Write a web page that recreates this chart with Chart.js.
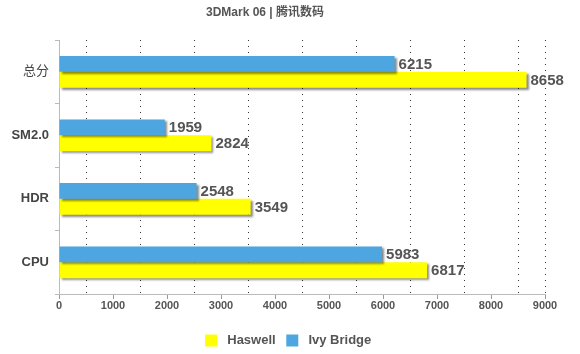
<!DOCTYPE html>
<html>
<head>
<meta charset="utf-8">
<script src="https://cdn.jsdelivr.net/npm/chart.js@4.4.0/dist/chart.umd.min.js"></script>
<style>
  html, body { margin: 0; padding: 0; background: #fff; }
  #wrap { width: 580px; height: 354px; }
</style>
</head>
<body>
<div id="wrap"><canvas id="myChart"></canvas></div>
<script>
var chartTitle = '3DMark 06 | 腾讯数码';
var categories = ['总分', 'SM2.0', 'HDR', 'CPU'];
var ivyBridge = [6215, 1959, 2548, 5983];
var haswell = [8658, 2824, 3549, 6817];
var xTicks = [0, 1000, 2000, 3000, 4000, 5000, 6000, 7000, 8000, 9000];

var fontFamily = '"Liberation Sans", Arial, "Noto Sans CJK SC", sans-serif';

// title, a bit left of centre like the original
var titleText = {
    id: 'titleText',
    afterDraw: function (chart) {
        var ctx = chart.ctx;
        ctx.save();
        ctx.font = 'bold 12px ' + fontFamily;
        ctx.fillStyle = '#555';
        ctx.textAlign = 'center';
        ctx.textBaseline = 'middle';
        ctx.fillText(chartTitle, 265, 13);
        ctx.restore();
    }
};

// grey drop shadow under the bars
var barShadow = {
    id: 'barShadow',
    beforeDatasetsDraw: function (chart) {
        var ctx = chart.ctx;
        ctx.save();
        ctx.shadowColor = 'rgba(0,0,0,0.45)';
        ctx.shadowOffsetX = 2;
        ctx.shadowOffsetY = 2;
        ctx.shadowBlur = 2;
    },
    afterDatasetsDraw: function (chart) {
        chart.ctx.restore();
    }
};

// value labels at the end of each bar
var valueLabels = {
    id: 'valueLabels',
    afterDraw: function (chart) {
        var ctx = chart.ctx;
        ctx.save();
        ctx.font = 'bold 15px ' + fontFamily;
        ctx.fillStyle = '#555';
        ctx.textBaseline = 'middle';
        ctx.textAlign = 'left';
        chart.data.datasets.forEach(function (ds, i) {
            chart.getDatasetMeta(i).data.forEach(function (bar, j) {
                ctx.fillText(ds.data[j], bar.x + 4, bar.y + 1);
            });
        });
        ctx.restore();
    }
};

var ctx = document.getElementById('myChart').getContext('2d');
var myChart = new Chart(ctx, {
    type: 'bar',
    data: {
        labels: categories,
        datasets: [{
            label: 'Ivy Bridge',
            data: ivyBridge,
            backgroundColor: '#4da6df',
            borderWidth: 0
        }, {
            label: 'Haswell',
            data: haswell,
            backgroundColor: '#ffff00',
            borderWidth: 0
        }]
    },
    options: {
        indexAxis: 'y',
        responsive: true,
        maintainAspectRatio: false,
        animation: false,
        barPercentage: 1,
        categoryPercentage: 0.5,
        layout: { padding: { left: 0, right: 0, top: 40, bottom: -3 } },
        scales: {
            x: {
                min: 0,
                max: 9000,
                afterBuildTicks: function (scale) {
                    var t = [];
                    for (var v = 0; v <= 9000; v += 500) t.push({ value: v });
                    scale.ticks = t;
                },
                afterFit: function (scale) { scale.height = 33; },
                grid: {
                    color: function (c) {
                        var v = c.tick.value;
                        return (v % 1000 === 500 || v === 9000) ? '#333' : 'rgba(0,0,0,0)';
                    },
                    tickColor: function (c) {
                        return xTicks.indexOf(c.tick.value) >= 0 ? '#999' : 'rgba(0,0,0,0)';
                    },
                    tickLength: 5,
                    lineWidth: 1
                },
                border: { display: true, color: '#bbb', dash: [1, 5] },
                ticks: {
                    autoSkip: false,
                    maxRotation: 0,
                    padding: 0,
                    color: '#555',
                    font: { family: fontFamily, size: 11, weight: 'bold' },
                    callback: function (v) { return xTicks.indexOf(v) >= 0 ? v : ''; }
                }
            },
            y: {
                afterFit: function (scale) { scale.width = 59; },
                grid: {
                    offset: true,
                    drawOnChartArea: false,
                    tickLength: 4,
                    tickColor: '#bbb'
                },
                border: { display: true, color: '#bbb' },
                ticks: {
                    color: '#444',
                    padding: 6,
                    font: function (c) {
                        if (c.index === 0) return { family: fontFamily, size: 13, weight: 'normal' };
                        return { family: fontFamily, size: 13, weight: 'bold' };
                    }
                }
            },
            // empty strip on the right so the legend centres on the page
            yRight: {
                position: 'right',
                afterFit: function (scale) { scale.width = 35; },
                grid: { display: false },
                border: { display: false },
                ticks: { display: false }
            }
        },
        plugins: {
            title: { display: false },
            legend: {
                position: 'bottom',
                reverse: true,
                labels: {
                    boxWidth: 12,
                    boxHeight: 12,
                    padding: 7,
                    color: '#555',
                    font: { family: fontFamily, size: 13, weight: 'bold' },
                    generateLabels: function (chart) {
                        var items = Chart.defaults.plugins.legend.labels.generateLabels(chart);
                        items.forEach(function (it) { it.text = ' ' + it.text + ' '; });
                        return items;
                    }
                }
            },
            tooltip: { enabled: false }
        }
    },
    plugins: [titleText, barShadow, valueLabels]
});
</script>
</body>
</html>
